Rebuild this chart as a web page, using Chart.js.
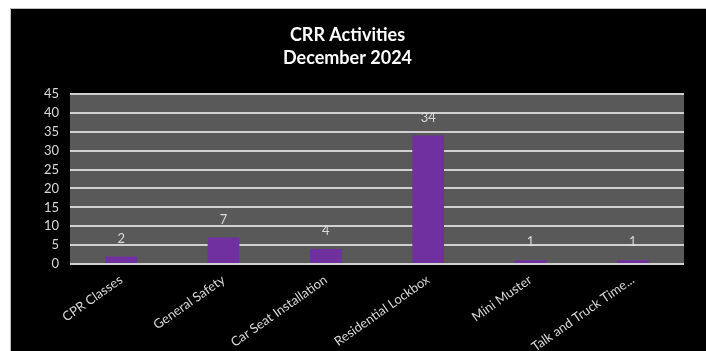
<!DOCTYPE html>
<html>
<head>
<meta charset="utf-8">
<script src="https://cdn.jsdelivr.net/npm/chart.js@4"></script>
<style>
  html, body { margin: 0; padding: 0; background: #fff; }
  #frame {
    position: absolute; left: 10px; top: 8px;
    width: 695px; height: 342px;
    background: #000;
    border-top: 1px solid #bfbfbf; border-left: 1px solid #bfbfbf;
  }
  #frame canvas { display: block; }
</style>
</head>
<body>
<div id="frame"><canvas id="myBarChart" width="695" height="342"></canvas></div>
<script>
const categories = ["CPR Classes", "General Safety", "Car Seat Installation", "Residential Lockbox", "Mini Muster", "Talk and Truck Time..."];
const activityCounts = [2, 7, 4, 34, 1, 1];
const yTicks = [0, 5, 10, 15, 20, 25, 30, 35, 40, 45];
const titleLines = ["CRR Activities", "December 2024"];

const labelColor = '#d9d9d9';
const fontFamily = 'Lato, "Open Sans", sans-serif';

// grey plot background behind the bars
const plotBackground = {
    id: 'plotBackground',
    beforeDraw(chart) {
        const { ctx, chartArea } = chart;
        ctx.save();
        ctx.fillStyle = '#595959';
        ctx.fillRect(chartArea.left, chartArea.top, chartArea.right - chartArea.left, chartArea.bottom - chartArea.top);
        ctx.restore();
    }
};

// value labels above each bar
const valueLabels = {
    id: 'valueLabels',
    afterDatasetsDraw(chart) {
        const ctx = chart.ctx;
        ctx.save();
        ctx.fillStyle = labelColor;
        ctx.font = '13px ' + fontFamily;
        ctx.textAlign = 'center';
        ctx.textBaseline = 'middle';
        chart.getDatasetMeta(0).data.forEach((bar, i) => {
            ctx.fillText(chart.data.datasets[0].data[i], bar.x, bar.y - 18);
        });
        ctx.restore();
    }
};

const ctx = document.getElementById('myBarChart').getContext('2d');
const myChart = new Chart(ctx, {
    type: 'bar',
    data: {
        labels: categories,
        datasets: [{
            label: 'CRR Activities',
            data: activityCounts,
            backgroundColor: '#7030a0',
            categoryPercentage: 1,
            barPercentage: 0.31
        }]
    },
    options: {
        responsive: false,
        animation: false,
        layout: { padding: { left: 0, right: 22, top: 0, bottom: 0 } },
        plugins: {
            legend: { display: false },
            tooltip: { enabled: false },
            title: {
                display: true,
                text: titleLines,
                color: '#ffffff',
                font: { family: fontFamily, size: 18, weight: 'bold', lineHeight: 1.25 },
                padding: { top: 15, bottom: 25 }
            }
        },
        scales: {
            x: {
                grid: { display: false, drawTicks: false },
                border: { display: false },
                ticks: {
                    color: labelColor,
                    font: { family: fontFamily, size: 13 },
                    minRotation: 35,
                    maxRotation: 35,
                    padding: 8,
                    autoSkip: false
                },
                afterFit(scale) { scale.height = 87; }
            },
            y: {
                min: 0,
                max: 45,
                afterBuildTicks(scale) { scale.ticks = yTicks.map(v => ({ value: v })); },
                grid: { color: '#d0d0d0', lineWidth: 2, drawTicks: false },
                border: { display: false },
                ticks: {
                    color: labelColor,
                    font: { family: fontFamily, size: 13 },
                    padding: 11
                },
                afterFit(scale) { scale.width = 59; }
            }
        }
    },
    plugins: [plotBackground, valueLabels]
});
</script>
</body>
</html>
